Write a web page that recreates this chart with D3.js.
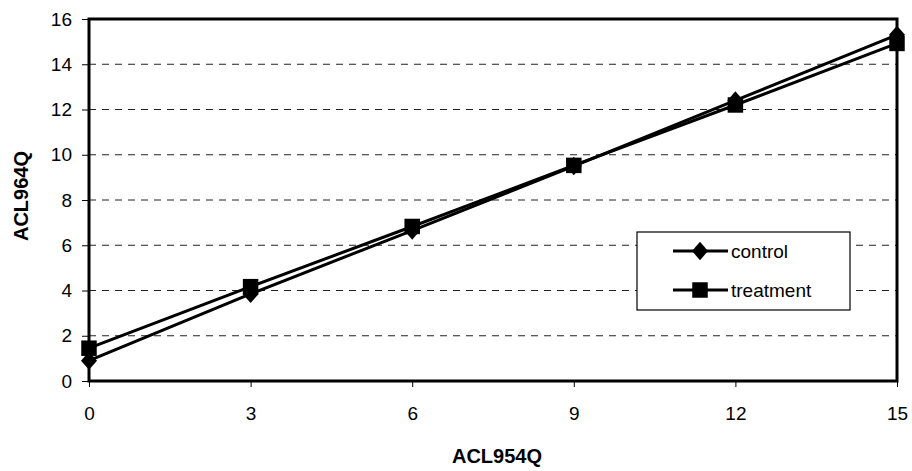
<!DOCTYPE html>
<html>
<head>
<meta charset="utf-8">
<script src="https://cdn.jsdelivr.net/npm/d3@7"></script>
<style>
  html, body { margin: 0; padding: 0; background: #fff; }
  svg { display: block; font-family: "Liberation Sans", Arial, sans-serif; }
</style>
</head>
<body>
<svg id="chart" width="912" height="471"></svg>
<script>
// x-axis categories and the two series
const xValues = [0, 3, 6, 9, 12, 15];
const controlValues = [0.9, 3.85, 6.65, 9.5, 12.4, 15.3];
const treatmentValues = [1.45, 4.17, 6.83, 9.53, 12.2, 14.92];
const xTicks = [0, 3, 6, 9, 12, 15];
const yTicks = [0, 2, 4, 6, 8, 10, 12, 14, 16];
const seriesNames = ["control", "treatment"];

const svg = d3.select("#chart");
const plotLeft = 89, plotRight = 897, plotTop = 19, plotBottom = 381;

const x = d3.scaleLinear().domain([0, 15]).range([plotLeft, plotRight]);
const y = d3.scaleLinear().domain([0, 16]).range([plotBottom, plotTop]);

// dashed horizontal gridlines
svg.append("g")
  .selectAll("line")
  .data(yTicks.filter(d => d > 0 && d < 16))
  .join("line")
  .attr("x1", plotLeft).attr("x2", plotRight)
  .attr("y1", d => y(d)).attr("y2", d => y(d))
  .attr("stroke", "#222").attr("stroke-width", 1)
  .attr("stroke-dasharray", "7,6");

// axes
const yAxis = svg.append("g")
  .attr("transform", `translate(${plotLeft},0)`)
  .call(d3.axisLeft(y).tickValues(yTicks).tickSize(7).tickPadding(10));
const xAxis = svg.append("g")
  .attr("transform", `translate(0,${plotBottom})`)
  .call(d3.axisBottom(x).tickValues(xTicks).tickSize(6).tickPadding(20));
[yAxis, xAxis].forEach(a => {
  a.select(".domain").remove();
  a.selectAll("line").attr("stroke", "#000").attr("stroke-width", 1);
  a.selectAll("text").attr("font-size", 19).attr("fill", "#000")
    .attr("font-family", "'Liberation Sans', Arial, sans-serif");
});

// plot frame
svg.append("rect")
  .attr("x", plotLeft).attr("y", plotTop)
  .attr("width", plotRight - plotLeft).attr("height", plotBottom - plotTop)
  .attr("fill", "none").attr("stroke", "#000").attr("stroke-width", 3);

// marker shapes: a slightly tall diamond and a filled square
const diamondType = {
  draw(ctx, size) {
    const w = Math.sqrt(size) * 0.5, h = w * 1.15;
    ctx.moveTo(0, -h); ctx.lineTo(w, 0); ctx.lineTo(0, h); ctx.lineTo(-w, 0); ctx.closePath();
  }
};
const diamond = d3.symbol().type(diamondType).size(256);
const square = d3.symbol().type(d3.symbolSquare).size(240);

// series lines and markers
const line = d3.line().x(d => x(d[0])).y(d => y(d[1]));
const seriesData = [
  xValues.map((v, i) => [v, controlValues[i]]),
  xValues.map((v, i) => [v, treatmentValues[i]])
];

seriesData.forEach(data => {
  svg.append("path").datum(data)
    .attr("d", line).attr("fill", "none")
    .attr("stroke", "#000").attr("stroke-width", 3);
});
svg.append("g").selectAll("path").data(seriesData[0]).join("path")
  .attr("transform", d => `translate(${x(d[0])},${y(d[1])})`)
  .attr("d", diamond).attr("fill", "#000");
svg.append("g").selectAll("path").data(seriesData[1]).join("path")
  .attr("transform", d => `translate(${x(d[0])},${y(d[1])})`)
  .attr("d", square).attr("fill", "#000");

// legend
const lg = svg.append("g");
lg.append("rect").attr("x", 637).attr("y", 232).attr("width", 213).attr("height", 78)
  .attr("fill", "#fff").attr("stroke", "#000").attr("stroke-width", 1.2);
seriesNames.forEach((name, i) => {
  const ly = 251 + i * 39;
  lg.append("line").attr("x1", 673).attr("x2", 728).attr("y1", ly).attr("y2", ly)
    .attr("stroke", "#000").attr("stroke-width", 3);
  lg.append("path")
    .attr("transform", `translate(700,${ly})`)
    .attr("d", i === 0 ? diamond : square).attr("fill", "#000");
  lg.append("text").attr("x", 731).attr("y", ly + 7)
    .attr("font-size", 19).text(name);
});

// axis titles
svg.append("text").attr("x", 497).attr("y", 463)
  .attr("text-anchor", "middle").attr("font-size", 20).attr("font-weight", "bold")
  .text("ACL954Q");
svg.append("text")
  .attr("transform", `translate(28,196) rotate(-90)`)
  .attr("text-anchor", "middle").attr("font-size", 20).attr("font-weight", "bold")
  .text("ACL964Q");
</script>
</body>
</html>
